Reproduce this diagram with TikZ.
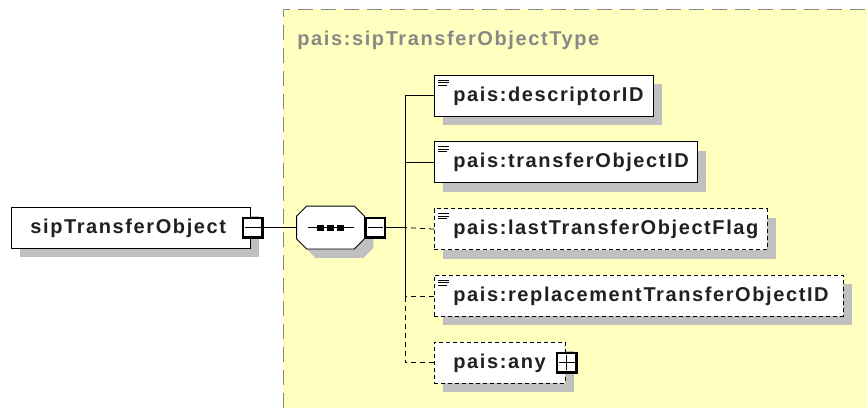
\documentclass[tikz,border=0pt]{standalone}
\usepackage{fontspec}
\usepackage{tikz}
\usetikzlibrary{shapes, shadows, positioning}
\newfontfamily\xsdfont{Liberation Sans}[LetterSpace=8]
\definecolor{typebg}{RGB}{255,255,192}
\definecolor{typeline}{RGB}{136,136,136}
\definecolor{shade}{RGB}{192,192,192}
\definecolor{ink}{RGB}{32,32,32}
\newcommand{\docmark}[1]{%
  \draw[line width=0.7pt] ([shift={(4pt,-5.3pt)}]#1.north west) -- ++(11pt,0pt)
    ([shift={(4pt,-7.8pt)}]#1.north west) -- ++(11pt,0pt)
    ([shift={(4pt,-10.3pt)}]#1.north west) -- ++(9pt,0pt);}

\begin{document}
\begin{tikzpicture}[x=1pt, y=-1pt, node distance={25pt}, line width=0.8pt,
    shadowed/.style = {drop shadow={shadow xshift=9pt, shadow yshift=-9pt,
                        fill=shade, opacity=1}},
    elem/.style = {draw, fill=white, text=ink, shadowed, text width=#1,
                   align=left, inner sep=0pt, minimum height=41pt,
                   text height=14pt, text depth=3pt,
                   font=\xsdfont\bfseries\fontsize{20pt}{22pt}\selectfont,
                   execute at begin node={\noindent\hspace*{19pt}}},
    opt/.style = {elem=#1, dash pattern=on 4pt off 3pt},
    optline/.style = {dash pattern=on 5pt off 4pt},
    toggle/.style = {draw, fill=white, line width=2.5pt, minimum size=19.5pt,
                     inner sep=0pt},
    minus/.style = {toggle, path picture={\draw[line width=0.8pt]
        ([xshift=2pt]path picture bounding box.west) --
        ([xshift=-2pt]path picture bounding box.east);}},
    plus/.style = {toggle, path picture={\draw[line width=0.8pt]
        ([xshift=2pt]path picture bounding box.west) --
        ([xshift=-2pt]path picture bounding box.east)
        ([yshift=2pt]path picture bounding box.south) --
        ([yshift=-2pt]path picture bounding box.north);}},
    seqbox/.style = {minimum width=67pt, minimum height=42pt, inner sep=0pt}]
        \useasboundingbox (0,0) rectangle (867,408);

        % complex type area
        \fill[typebg] (283,9) rectangle (867,408);
        \draw[typeline, dash pattern=on 15pt off 8pt] (283,408) -- (283,9) -- (867,9);
        \node[anchor=base west, text=typeline, inner sep=0pt,
              font=\xsdfont\bfseries\fontsize{20pt}{22pt}\selectfont]
              (typename) at (297,45) {pais:sipTransferObjectType};

        \node[elem=239pt, anchor=west] (root) at (11,227.5) {sipTransferObject};
        \node[minus] (rootminus) at ([xshift=2pt]root.east) {};

        % sequence compositor
        \node[seqbox] (seq) at (330.5,227.5) {};
        \draw[fill=white, shadowed] ([xshift=10pt]seq.north west) -- ([xshift=-10pt]seq.north east)
            -- ([yshift=-10pt]seq.north east) -- ([yshift=10pt]seq.south east)
            -- ([xshift=-10pt]seq.south east) -- ([xshift=10pt]seq.south west)
            -- ([yshift=10pt]seq.south west) -- ([yshift=-10pt]seq.north west) -- cycle;
        \draw ([xshift=-23pt]seq.center) -- ([xshift=23pt]seq.center);
        \foreach \dx in {-10,0,10}
            \fill ([shift={(\dx pt-3.5pt,-3pt)}]seq.center) rectangle +(7pt,6pt);
        \node[minus] (seqminus) at ([xshift=11pt]seq.east) {};
        \coordinate (fork) at (405,227.5);

        \node[elem=219pt, anchor=west] (desc) at (434,95.5) {pais:descriptorID};
        \node[elem=263pt] (xfer) [below=of desc.south west, anchor=north west] {pais:transferObjectID};
        \node[opt=333pt] (last) [below=of xfer.south west, anchor=north west] {pais:lastTransferObjectFlag};
        \node[opt=409pt] (repl) [below=of last.south west, anchor=north west] {pais:replacementTransferObjectID};
        \node[opt=131pt] (anyel) [below=of repl.south west, anchor=north west] {pais:any};
        \node[plus] (anyplus) at ([xshift=1pt]anyel.east) {};

        \docmark{desc}
        \docmark{xfer}
        \docmark{last}
        \docmark{repl}

        \draw (rootminus.east) -- (seq.west);
        \draw (seqminus.east) -- (fork);
        \draw (desc.west) -| (fork);
        \draw (xfer.west) -| (fork);
        \draw[optline] (last.west) -- (fork);
        \draw[optline] (repl.west) -| (fork);
        \draw[optline] (anyel.west) -| (fork);
    \end{tikzpicture}
\end{document}
